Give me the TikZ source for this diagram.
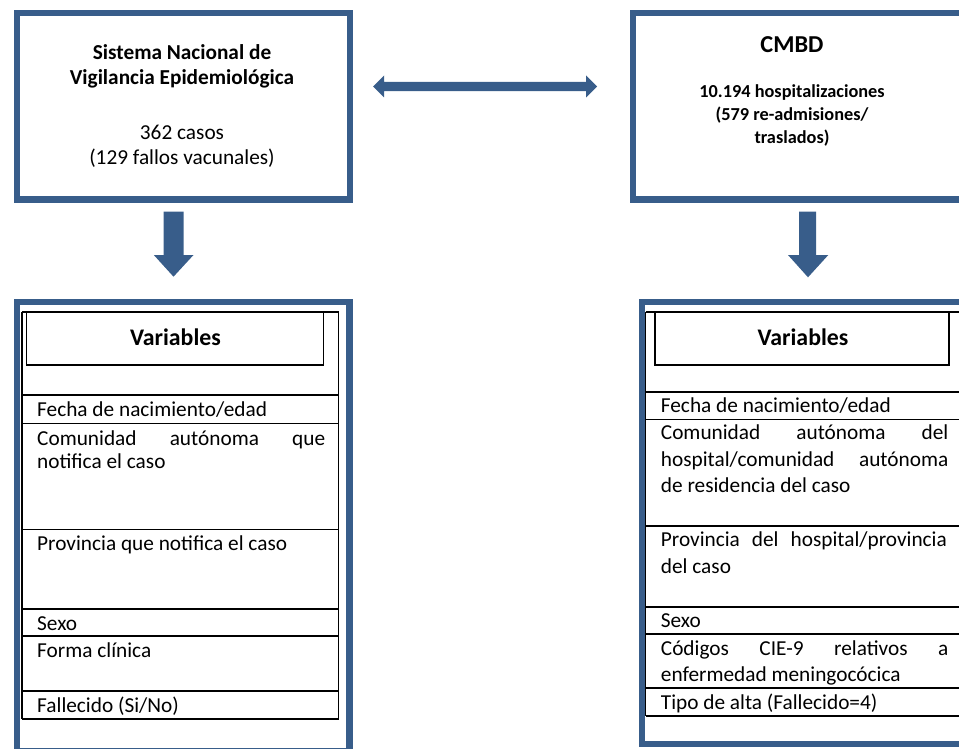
\documentclass[tikz,border=0pt]{standalone}
\usepackage{fontspec}
\setmainfont{Carlito}
\definecolor{frameblue}{HTML}{385D8A}
\begin{document}
\begin{tikzpicture}[x=1pt,y=-1pt,
  frame/.style={draw=frameblue, line width=6.3pt, fill=none, inner sep=0pt, anchor=north west},
  tline/.style={draw=black, line width=1.8pt},
  barrow/.style={fill=frameblue, draw=none},
  celltext/.style={anchor=base west, inner sep=0pt, font=\fontsize{21.3}{24}\selectfont},
  titletext/.style={anchor=base, inner sep=0pt, font=\fontsize{21.3}{25}\selectfont\bfseries},
  numtext/.style={anchor=base, inner sep=0pt, font=\fontsize{21.3}{25}\selectfont},
  cmbdsub/.style={anchor=base, inner sep=0pt, font=\fontsize{18.3}{23}\selectfont\bfseries},
  headtext/.style={anchor=base, inner sep=0pt, font=\fontsize{23.8}{28}\selectfont\bfseries}
]
\useasboundingbox (0,0) rectangle (959,749);
\clip (0,0) rectangle (959,749);

% ---- frames ----
\node (snve) [frame, minimum width=333pt, minimum height=186.5pt] at (13.5,10) {};
\node (cmbd) [frame, minimum width=345pt, minimum height=186.5pt] at (630,10) {};
\node (varl) [frame, minimum width=332.5pt, minimum height=449.5pt] at (13.8,298.5) {};
\node (varr) [frame, minimum width=337pt, minimum height=442.5pt] at (638.5,298.5) {};

% ---- top texts ----
\node (t1) [titletext] at (182,59.3) {Sistema Nacional de};
\node (t2) [titletext] at (182,85) {Vigilancia Epidemiológica};
\node (t3) [numtext] at (182,139.3) {362 casos};
\node (t4) [numtext] at (182,165) {(129 fallos vacunales)};

\node (c1) [anchor=base, inner sep=0pt, font=\fontsize{24.3}{28}\selectfont\bfseries] at (792,52.7) {CMBD};
\node (c2) [cmbdsub] at (792,97.7) {10.194 hospitalizaciones};
\node (c3) [cmbdsub] at (792,121) {(579 re-admisiones/};
\node (c4) [cmbdsub] at (792,143.3) {traslados)};

% ---- arrows ----
\coordinate (dl) at (373,86.5);
\coordinate (dr) at (597,86.5);
\fill[barrow] (dl) -- ++(11,-11) -- ++(0,6.3) -- (586,81.8) -- ++(0,-6.3) -- (dr)
  -- (586,97.5) -- ++(0,-6.3) -- (384,91.2) -- ++(0,6.3) -- cycle;

\coordinate (al) at (173.5,276.7);
\fill[barrow] (163.5,211.7) -- (183.5,211.7) -- (183.5,255) -- (193.5,255) -- (al)
  -- (153.8,255) -- (163.5,255) -- cycle;

\coordinate (ar) at (808,277.3);
\fill[barrow] (799,211.7) -- (816,211.7) -- (816,255) -- (828.3,255) -- (ar)
  -- (788,255) -- (799,255) -- cycle;

% ---- left table ----
\draw[tline] (21.8,311.8) -- (338.5,311.8);
\draw[tline] (21.8,311.8) -- (21.8,719.2);
\draw[tline] (338.5,311.8) -- (338.5,719.2);
\foreach \yy in {395.2,423.5,529.5,609.2,635.8,691.2,719.2}
  \draw[tline] (21.8,\yy) -- (338.5,\yy);
\draw[tline] (26.5,312.5) rectangle (323.5,365.2);
\node (hl) [headtext] at (175.5,345) {Variables};

\node (l1) [celltext] at (37,416.7) {Fecha de nacimiento/edad};
\node (l2) [celltext] at (37,445) {\makebox[288pt][s]{Comunidad autónoma que}};
\node (l2b) [celltext] at (37,468.5) {notifica el caso};
\node (l3) [celltext] at (37,550.7) {Provincia que notifica el caso};
\node (l4) [celltext] at (37,630.3) {Sexo};
\node (l5) [celltext] at (37,657.7) {Forma clínica};
\node (l6) [celltext] at (37,712.3) {Fallecido (Si/No)};

% ---- right table ----
\draw[tline] (645.5,311.8) -- (970,311.8);
\draw[tline] (645.5,311.8) -- (645.5,715.8);
\foreach \yy in {391.8,419.5,525.8,606.8,634.2,688.2,715.8}
  \draw[tline] (645.5,\yy) -- (970,\yy);
\draw[tline] (655.2,312.5) rectangle (949.2,365.2);
\node (hr) [headtext] at (803,345) {Variables};

\node (r1) [celltext] at (660.7,412.7) {Fecha de nacimiento/edad};
\node (r2) [celltext] at (660.7,439.3) {\makebox[287.5pt][s]{Comunidad autónoma del}};
\node (r2b) [celltext] at (660.7,466) {\makebox[287.5pt][s]{hospital/comunidad autónoma}};
\node (r2c) [celltext] at (660.7,492.7) {de residencia del caso};
\node (r3) [celltext] at (660.7,546.7) {\makebox[286pt][s]{Provincia del hospital/provincia}};
\node (r3b) [celltext] at (660.7,573.3) {del caso};
\node (r4) [celltext] at (660.7,627.3) {Sexo};
\node (r5) [celltext] at (660.7,655) {\makebox[287.5pt][s]{Códigos CIE-9 relativos a}};
\node (r5b) [celltext] at (660.7,681.7) {enfermedad meningocócica};
\node (r6) [celltext] at (660.7,709) {Tipo de alta (Fallecido=4)};
\end{tikzpicture}
\end{document}
